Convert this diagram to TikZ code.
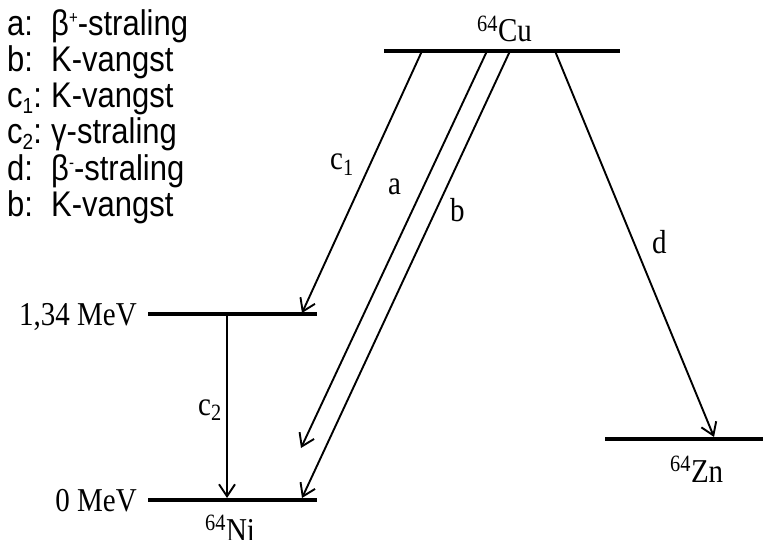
\documentclass[tikz,border=0pt]{standalone}
\usepackage{fontspec}
\setmainfont{Liberation Serif}
\setsansfont{Liberation Sans}
\usetikzlibrary{arrows.meta}
\newcommand{\legsup}[1]{\raisebox{11pt}{\fontsize{15}{15}\selectfont #1}}
\newcommand{\legsub}[1]{\raisebox{-5pt}{\fontsize{19}{19}\selectfont #1}}
\newcommand{\tall}[1]{\scalebox{1}[1.15]{#1}}
\begin{document}
\begin{tikzpicture}[x=1pt,y=-1pt,
  level/.style={line width=3.8pt},
  trans/.style={line width=1.9pt,-{Straight Barb[length=12pt,width=16pt,line width=1.9pt]}},
  lbl/.style={anchor=base west,inner sep=0pt,font=\fontsize{29}{34}\selectfont},
  leg/.style={anchor=base west,inner sep=0pt,font=\sffamily\fontsize{31}{36}\selectfont}]
\useasboundingbox (0,0) rectangle (763,540);
% legend
\node[leg] (k1) at (7,36) {\tall{a:}};       \node[leg] (v1) at (51,36) {\tall{β\legsup{+}-straling}};
\node[leg] (k2) at (7,72) {\tall{b:}};       \node[leg] (v2) at (51,72) {\tall{K-vangst}};
\node[leg] (k3) at (7,108) {\tall{c\legsub{1}:}}; \node[leg] (v3) at (51,108) {\tall{K-vangst}};
\node[leg] (k4) at (7,144) {\tall{c\legsub{2}:}}; \node[leg] (v4) at (51,144) {\tall{γ-straling}};
\node[leg] (k5) at (7,181) {\tall{d:}};      \node[leg] (v5) at (51,181) {\tall{β\legsup{-}-straling}};
\node[leg] (k6) at (7,217) {\tall{b:}};      \node[leg] (v6) at (51,217) {\tall{K-vangst}};
% levels
\draw[level] (384,51) -- (620,51);
\draw[level] (148,314) -- (317,314);
\draw[level] (148,500) -- (317,500);
\draw[level] (605,439) -- (763,439);
% coordinates
\coordinate (cuC) at (422,51);
\coordinate (cuA) at (487,51);
\coordinate (cuB) at (510,51);
\coordinate (cuD) at (555,51);
\coordinate (niE) at (302,313);
\coordinate (niA) at (301,448);
\coordinate (niB) at (302,498);
\coordinate (exT) at (227,316);
\coordinate (exB) at (227,498);
\coordinate (znD) at (714,437);
% transitions
\draw[trans] (cuC) -- (niE);
\draw[trans] (cuA) -- (niA);
\draw[trans] (cuB) -- (niB);
\draw[trans] (cuD) -- (znD);
\draw[trans] (exT) -- (exB);
% labels
\node[lbl] (cu) at (477,42) {\tall{\textsuperscript{64}Cu}};
\node[lbl] (zn) at (670,482) {\tall{\textsuperscript{64}Zn}};
\node[lbl] (ni) at (205,541) {\tall{\textsuperscript{64}Ni}};
\node[lbl,anchor=base east] (e1) at (137,325) {\tall{1,34 MeV}};
\node[lbl,anchor=base east] (e0) at (137,511) {\tall{0 MeV}};
\node[lbl] (lc1) at (330,170) {\tall{c\textsubscript{1}}};
\node[lbl] (la) at (388,195) {\tall{a}};
\node[lbl] (lb) at (450,222) {\tall{b}};
\node[lbl] (ld) at (652,253) {\tall{d}};
\node[lbl] (lc2) at (198,415) {\tall{c\textsubscript{2}}};
\end{tikzpicture}
\end{document}
